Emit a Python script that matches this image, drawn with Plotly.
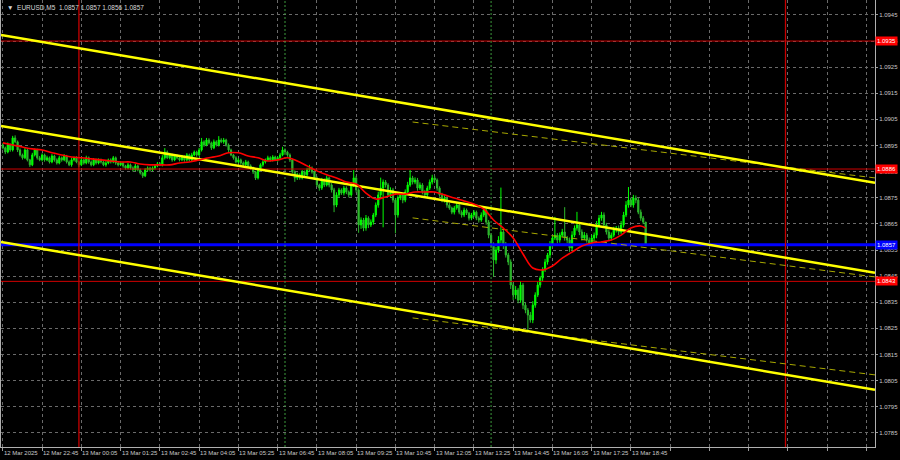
import pandas as pd
import plotly.graph_objects as go

# ---------------- data ----------------
first_open = 1.08952
closes = [
    1.08941, 1.08925, 1.08952, 1.08933, 1.08979, 1.08964, 1.08933, 1.08914,
    1.08903, 1.08933, 1.08895, 1.08876, 1.08914, 1.08933, 1.08903, 1.08895,
    1.08914, 1.08895, 1.08903, 1.08887, 1.08910, 1.08895, 1.08883, 1.08903,
    1.08895, 1.08910, 1.08887, 1.08876, 1.08895, 1.08903, 1.08887, 1.08876,
    1.08895, 1.08883, 1.08903, 1.08887, 1.08876, 1.08895, 1.08883, 1.08895,
    1.08887, 1.08876, 1.08883, 1.08895, 1.08887, 1.08903, 1.08883, 1.08876,
    1.08883, 1.08872, 1.08864, 1.08876, 1.08864, 1.08857, 1.08872, 1.08857,
    1.08845, 1.08834, 1.08857, 1.08864, 1.08857, 1.08864, 1.08872, 1.08880,
    1.08876, 1.08903, 1.08925, 1.08903, 1.08914, 1.08895, 1.08910, 1.08903,
    1.08895, 1.08906, 1.08895, 1.08914, 1.08895, 1.08914, 1.08925, 1.08914,
    1.08933, 1.08964, 1.08952, 1.08971, 1.08960, 1.08941, 1.08964, 1.08952,
    1.08971, 1.08964, 1.08971, 1.08952, 1.08933, 1.08914, 1.08903, 1.08887,
    1.08895, 1.08883, 1.08876, 1.08887, 1.08872, 1.08864, 1.08849, 1.08826,
    1.08857, 1.08876, 1.08887, 1.08895, 1.08903, 1.08895, 1.08906, 1.08895,
    1.08903, 1.08914, 1.08933, 1.08925, 1.08914, 1.08895, 1.08849, 1.08826,
    1.08838, 1.08826, 1.08849, 1.08838, 1.08857, 1.08864, 1.08849, 1.08826,
    1.08799, 1.08787, 1.08818, 1.08799, 1.08826, 1.08799, 1.08780, 1.08722,
    1.08761, 1.08780, 1.08768, 1.08787, 1.08772, 1.08761, 1.08799, 1.08826,
    1.08780, 1.08646, 1.08665, 1.08634, 1.08672, 1.08646, 1.08657, 1.08684,
    1.08722, 1.08761, 1.08787, 1.08810, 1.08799, 1.08761, 1.08780, 1.08741,
    1.08684, 1.08749, 1.08761, 1.08741, 1.08772, 1.08799, 1.08826, 1.08810,
    1.08818, 1.08787, 1.08799, 1.08772, 1.08761, 1.08787, 1.08810, 1.08826,
    1.08818, 1.08787, 1.08761, 1.08741, 1.08749, 1.08722, 1.08711, 1.08695,
    1.08711, 1.08722, 1.08695, 1.08684, 1.08703, 1.08691, 1.08672, 1.08684,
    1.08695, 1.08672, 1.08665, 1.08684, 1.08703, 1.08657, 1.08607, 1.08569,
    1.08512, 1.08550, 1.08588, 1.08619, 1.08569, 1.08531, 1.08504, 1.08416,
    1.08378, 1.08397, 1.08358, 1.08416, 1.08339, 1.08320, 1.08301, 1.08282,
    1.08339, 1.08378, 1.08416, 1.08443, 1.08474, 1.08504, 1.08531, 1.08569,
    1.08596, 1.08607, 1.08588, 1.08607, 1.08619, 1.08596, 1.08588, 1.08558,
    1.08607, 1.08634, 1.08646, 1.08619, 1.08596, 1.08607, 1.08588, 1.08577,
    1.08596, 1.08607, 1.08646, 1.08672, 1.08684, 1.08646, 1.08619, 1.08596,
    1.08607, 1.08627, 1.08634, 1.08619, 1.08646, 1.08684, 1.08722, 1.08741,
    1.08722, 1.08749, 1.08741, 1.08695, 1.08672, 1.08657, 1.08569,
]
# wick sizes in pips (0.0001)
upper_wick = [
    0.8, 0.5, 1.0, 0.6, 0.8, 1.0, 0.5, 0.6,
    0.5, 0.8, 0.6, 0.4, 0.8, 0.6, 0.5, 0.7,
    0.6, 0.5, 0.8, 0.5, 0.7, 0.5, 0.6, 0.8,
    0.5, 0.7, 0.4, 0.6, 0.8, 0.5, 0.6, 0.4,
    0.7, 0.5, 0.8, 0.5, 0.6, 0.7, 0.5, 0.6,
    0.5, 0.6, 0.8, 0.5, 0.6, 0.7, 0.5, 0.6,
    0.6, 0.5, 0.4, 0.7, 0.5, 0.6, 0.8, 0.5,
    0.5, 0.4, 0.7, 0.6, 0.5, 0.6, 0.5, 0.7,
    0.6, 1.0, 1.5, 0.6, 0.8, 0.5, 0.7, 0.6,
    0.5, 0.8, 0.6, 0.7, 0.5, 0.8, 0.6, 0.5,
    0.8, 1.5, 0.6, 0.8, 0.7, 0.5, 0.9, 0.6,
    1.5, 0.7, 0.8, 0.5, 0.6, 0.5, 0.4, 0.6,
    0.7, 0.5, 0.6, 0.8, 0.5, 0.6, 0.5, 0.4,
    0.8, 0.6, 0.7, 0.5, 0.8, 0.6, 0.7, 0.5,
    0.6, 0.8, 1.2, 0.6, 0.5, 0.6, 0.5, 0.6,
    0.8, 0.6, 0.7, 0.5, 0.8, 1.2, 0.6, 0.5,
    0.6, 0.5, 0.8, 0.6, 0.9, 0.5, 0.7, 0.8,
    1.0, 0.8, 0.6, 0.9, 0.7, 0.6, 1.0, 3.0,
    0.8, 0.6, 1.0, 0.8, 1.2, 0.7, 1.0, 0.8,
    1.0, 1.2, 4.0, 1.0, 0.8, 0.7, 1.0, 0.8,
    0.8, 1.0, 0.8, 0.7, 1.0, 1.2, 3.0, 0.8,
    1.0, 0.8, 1.0, 0.7, 0.8, 0.9, 1.0, 1.2,
    0.8, 0.6, 0.7, 0.8, 1.0, 0.6, 0.8, 0.5,
    0.8, 1.0, 0.6, 0.7, 0.9, 0.6, 0.5, 0.8,
    0.8, 0.6, 0.7, 1.0, 0.8, 0.6, 0.8, 0.7,
    1.0, 1.2, 1.5, 17.0, 1.0, 1.2, 0.8, 1.0,
    1.0, 1.5, 0.8, 1.5, 0.8, 1.0, 0.8, 1.2,
    1.5, 1.0, 1.2, 0.8, 1.0, 1.2, 0.8, 1.5,
    1.0, 7.0, 0.8, 1.0, 1.2, 9.5, 0.8, 1.0,
    1.5, 1.0, 5.0, 0.8, 1.0, 1.2, 0.8, 1.0,
    1.2, 1.0, 1.5, 1.2, 1.2, 1.0, 0.8, 1.0,
    1.0, 1.2, 0.8, 1.0, 1.5, 1.2, 1.5, 5.0,
    1.0, 1.2, 1.0, 0.8, 1.0, 0.8, 0.0,
]
lower_wick = [
    0.6, 0.8, 0.5, 0.7, 0.6, 0.5, 0.8, 0.6,
    0.7, 0.5, 0.6, 0.8, 0.5, 0.6, 0.7, 0.5,
    0.6, 0.7, 0.5, 0.6, 0.5, 0.7, 0.6, 0.5,
    0.7, 0.5, 0.6, 0.5, 0.7, 0.6, 0.5, 0.8,
    0.5, 0.6, 0.5, 0.7, 0.6, 0.5, 0.6, 0.5,
    0.6, 0.5, 0.7, 0.5, 0.6, 0.5, 0.7, 0.6,
    0.5, 0.7, 0.6, 0.5, 0.6, 0.7, 0.5, 0.6,
    0.6, 0.8, 0.5, 0.6, 0.7, 0.5, 0.6, 0.5,
    0.5, 0.6, 0.7, 0.5, 0.6, 0.7, 0.5, 0.6,
    0.6, 0.5, 0.7, 0.6, 0.5, 0.6, 0.5, 0.7,
    0.5, 0.6, 0.7, 0.5, 0.6, 0.8, 0.5, 0.6,
    0.6, 0.5, 0.7, 0.6, 0.8, 0.5, 0.7, 0.6,
    0.5, 0.7, 0.6, 0.5, 0.6, 0.7, 0.8, 0.8,
    0.6, 0.5, 0.7, 0.6, 0.5, 0.7, 0.6, 0.5,
    0.7, 0.6, 0.5, 0.6, 0.7, 0.8, 0.6, 1.5,
    0.8, 0.7, 0.6, 0.8, 0.6, 0.5, 0.7, 0.8,
    0.8, 1.0, 0.7, 0.8, 0.6, 0.9, 1.0, 2.7,
    0.8, 1.0, 0.7, 0.9, 0.8, 1.0, 0.7, 0.8,
    1.0, 3.0, 1.5, 1.2, 1.0, 1.2, 0.8, 1.0,
    0.8, 1.0, 1.2, 15.0, 1.0, 0.8, 1.2, 1.0,
    7.0, 1.0, 0.8, 1.2, 0.8, 1.0, 0.7, 0.9,
    0.8, 1.0, 0.7, 0.9, 1.0, 0.8, 0.7, 0.9,
    0.8, 1.0, 0.7, 0.8, 0.9, 1.0, 0.7, 0.8,
    0.9, 0.7, 0.8, 1.0, 0.8, 0.7, 0.9, 0.8,
    0.7, 0.8, 1.0, 0.7, 0.8, 1.0, 1.2, 1.2,
    6.5, 1.5, 1.0, 1.2, 1.5, 1.0, 1.2, 1.5,
    2.0, 1.5, 1.2, 1.0, 1.5, 1.2, 5.7, 1.0,
    1.2, 1.0, 0.8, 1.0, 1.2, 0.8, 1.0, 1.2,
    1.0, 0.8, 1.2, 1.0, 0.8, 1.0, 1.2, 1.5,
    1.0, 0.8, 1.0, 1.2, 1.0, 0.8, 1.0, 1.2,
    0.8, 1.0, 1.2, 0.8, 1.0, 0.8, 1.0, 1.2,
    1.0, 0.8, 1.0, 1.2, 0.8, 1.0, 0.8, 1.0,
    0.8, 1.0, 1.2, 0.8, 1.0, 0.8, 0.3,
]

ma_times = pd.date_range("2025-03-12 21:25", "2025-03-13 19:05", freq="20min").tolist() + [pd.Timestamp("2025-03-13 19:15")]
ma_values = [
    1.08960, 1.08952, 1.08944, 1.08937, 1.08933, 1.08922, 1.08914, 1.08906,
    1.08903, 1.08899, 1.08895, 1.08891, 1.08887, 1.08887, 1.08879, 1.08876,
    1.08876, 1.08876, 1.08883, 1.08887, 1.08895, 1.08903, 1.08910, 1.08922,
    1.08922, 1.08910, 1.08903, 1.08891, 1.08895, 1.08903, 1.08891, 1.08872,
    1.08853, 1.08838, 1.08826, 1.08810, 1.08803, 1.08768, 1.08745, 1.08753,
    1.08764, 1.08764, 1.08772, 1.08772, 1.08772, 1.08761, 1.08749, 1.08738,
    1.08726, 1.08707, 1.08665, 1.08634, 1.08596, 1.08535, 1.08481, 1.08474,
    1.08489, 1.08519, 1.08542, 1.08565, 1.08577, 1.08581, 1.08588, 1.08607,
    1.08634, 1.08642, 1.08634,
]

view_start = pd.Timestamp("2025-03-12 21:21:12")
view_end = pd.Timestamp("2025-03-14 03:02:24")
price_min, price_max = 1.07796, 1.09507

channel_solid = {  # price at view_start, price at view_end
    "upper": (1.09373, 1.08807),
    "middle": (1.09025, 1.08463),
    "lower": (1.08581, 1.08015),
}
dashed_start = pd.Timestamp("2025-03-13 11:20")
channel_dashed = {
    "upper": (1.09040, 1.08826),
    "middle": (1.08673, 1.08447),
    "lower": (1.08290, 1.08072),
}

red_levels = [1.0935, 1.0886, 1.0843]
blue_level = 1.0857

red_vlines = ["2025-03-13 00:00", "2025-03-14 00:00"]
green_vlines = ["2025-03-13 07:00", "2025-03-13 14:00"]

x_label_times = ["2025-03-12 21:25"] + [
    str(t) for t in pd.date_range("2025-03-12 22:45", "2025-03-13 18:45", freq="80min")
]
x_label_texts = ["12 Mar 2025", "12 Mar 22:45", "13 Mar 00:05", "13 Mar 01:25", "13 Mar 02:45",
                 "13 Mar 04:05", "13 Mar 05:25", "13 Mar 06:45", "13 Mar 08:05", "13 Mar 09:25",
                 "13 Mar 10:45", "13 Mar 12:05", "13 Mar 13:25", "13 Mar 14:45", "13 Mar 16:05",
                 "13 Mar 17:25", "13 Mar 18:45"]
y_tick_vals = [1.0785, 1.0795, 1.0805, 1.0815, 1.0825, 1.0835, 1.0845, 1.0855,
               1.0865, 1.0875, 1.0885, 1.0895, 1.0905, 1.0915, 1.0925, 1.0935, 1.0945]
title_text = "▼  EURUSD,M5  1.0857 1.0857 1.0856 1.0857"

# ---------------- build ----------------
n = min(len(closes), len(upper_wick), len(lower_wick))
times = pd.date_range("2025-03-12 21:25", periods=n, freq="5min")
opens = [first_open] + closes[: n - 1]
highs = [max(o, c) + w * 1e-4 for o, c, w in zip(opens, closes, upper_wick)]
lows = [min(o, c) - w * 1e-4 for o, c, w in zip(opens, closes, lower_wick)]

FONT = "Liberation Sans, Arial"
fig = go.Figure()

for lv in red_levels:
    fig.add_trace(go.Scatter(x=[view_start, view_end], y=[lv, lv], mode="lines",
                             line=dict(color="#d00000", width=1), hoverinfo="skip", showlegend=False))
fig.add_trace(go.Scatter(x=[view_start, view_end], y=[blue_level, blue_level], mode="lines",
                         line=dict(color="#0000ff", width=3), hoverinfo="skip", showlegend=False))

for vt in red_vlines:
    fig.add_trace(go.Scatter(x=[vt, vt], y=[price_min, price_max], mode="lines",
                             line=dict(color="#c80000", width=1.3), hoverinfo="skip", showlegend=False))
for vt in green_vlines:
    fig.add_trace(go.Scatter(x=[vt, vt], y=[price_min, price_max], mode="lines",
                             line=dict(color="#3c9a3c", width=1, dash="2px,2px"), hoverinfo="skip", showlegend=False))

for k, (a, b) in channel_dashed.items():
    fig.add_trace(go.Scatter(x=[dashed_start, view_end], y=[a, b], mode="lines",
                             line=dict(color="#a8a800", width=1, dash="6px,4px"), hoverinfo="skip", showlegend=False))

fig.add_trace(go.Candlestick(
    x=times, open=opens, high=highs, low=lows, close=closes,
    increasing=dict(line=dict(color="#00ff00", width=1), fillcolor="#00ff00"),
    decreasing=dict(line=dict(color="#2db82d", width=1), fillcolor="#2db82d"),
    whiskerwidth=0, showlegend=False, hoverinfo="skip",
))

for k, (a, b) in channel_solid.items():
    fig.add_trace(go.Scatter(x=[view_start, view_end], y=[a, b], mode="lines",
                             line=dict(color="#ffff00", width=2.5), hoverinfo="skip", showlegend=False))

fig.add_trace(go.Scatter(x=ma_times, y=ma_values, mode="lines", line_shape="spline",
                         line=dict(color="#ff0000", width=1.6), hoverinfo="skip", showlegend=False))

annotations = []
for t, txt in zip(x_label_times, x_label_texts):
    annotations.append(dict(x=t, y=0, xref="x", yref="paper", text=txt, showarrow=False,
                            xanchor="left", yanchor="top", yshift=-1, xshift=-1,
                            font=dict(family=FONT, size=6, color="#c8c8c8")))
for lv in red_levels:
    annotations.append(dict(x=1, y=lv, xref="paper", yref="y", text=f"{lv:.4f}", showarrow=False,
                            xanchor="left", yanchor="middle", xshift=0, bgcolor="#ff0000",
                            borderpad=1, font=dict(family=FONT, size=6, color="#ffffff")))
annotations.append(dict(x=1, y=blue_level, xref="paper", yref="y", text=f"{blue_level:.4f}", showarrow=False,
                        xanchor="left", yanchor="middle", xshift=0, bgcolor="#0000ff",
                        borderpad=1, font=dict(family=FONT, size=6, color="#ffffff")))
annotations.append(dict(x=0, y=1, xref="paper", yref="paper", text=title_text, showarrow=False,
                        xanchor="left", yanchor="top", xshift=4, yshift=-2,
                        font=dict(family=FONT, size=6.5, color="#d8d8d8")))

fig.update_layout(
    width=900, height=460,
    paper_bgcolor="#000000", plot_bgcolor="#000000",
    margin=dict(l=1, r=25, t=0, b=13, autoexpand=False),
    showlegend=False,
    hovermode=False,
    annotations=annotations,
    xaxis=dict(
        type="date", range=[view_start, view_end],
        rangeslider=dict(visible=False),
        showgrid=True, gridcolor="#6a6a6a", griddash="3px,3px", gridwidth=1,
        tick0="2025-03-12 22:45", dtick=80 * 60 * 1000,
        showticklabels=False, ticks="outside", ticklen=3, tickcolor="#9a9a9a",
        showline=True, linecolor="#b0b0b0", linewidth=1, mirror=False,
        zeroline=False,
    ),
    yaxis=dict(
        side="right", range=[price_min, price_max],
        tickvals=y_tick_vals, ticktext=[f"{v:.4f}" for v in y_tick_vals],
        tickfont=dict(family=FONT, size=6, color="#c8c8c8"),
        showgrid=True, gridcolor="#6a6a6a", griddash="3px,3px", gridwidth=1,
        ticks="outside", ticklen=2, tickcolor="#9a9a9a",
        showline=True, linecolor="#b0b0b0", linewidth=1, mirror=True,
        zeroline=False,
    ),
)

fig.write_html(
    "out.html",
    config={"displayModeBar": False, "staticPlot": True},
    post_script="document.body.style.margin='0';document.body.style.padding='0';document.body.style.overflow='hidden';document.body.style.background='#000';",
)
